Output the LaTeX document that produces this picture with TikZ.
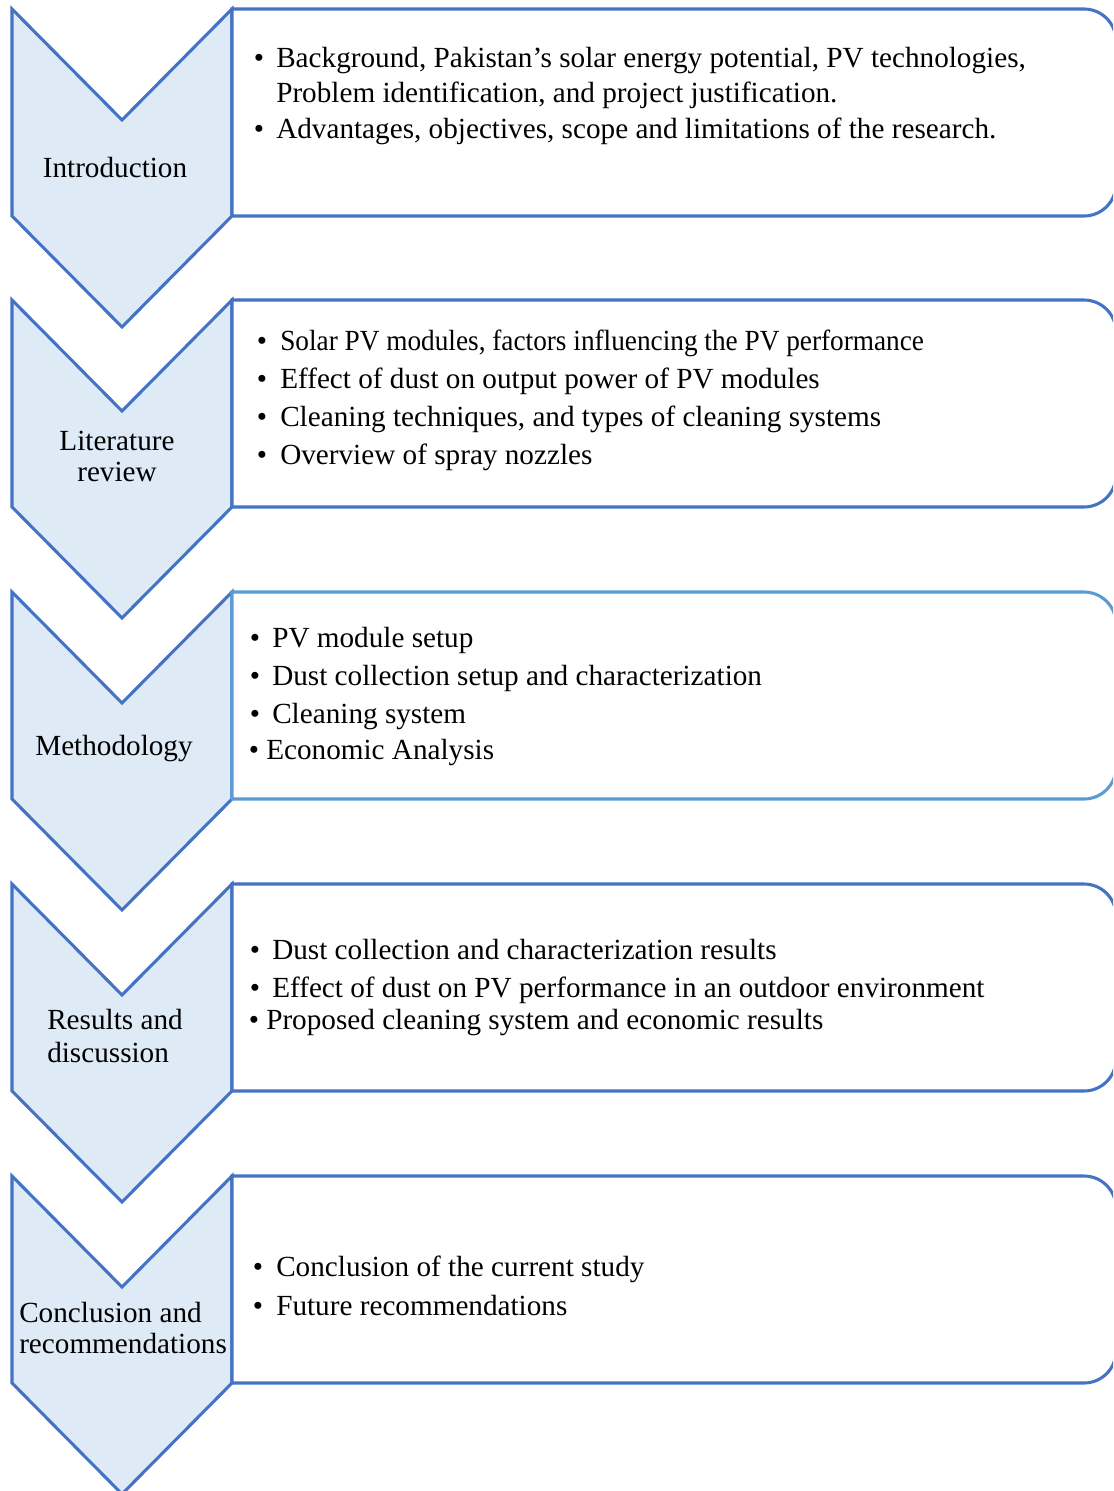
\documentclass[tikz,border=0pt]{standalone}
\usepackage{graphicx}
\usepackage{fontspec}
\setmainfont{Liberation Serif}
\definecolor{edgeblue}{HTML}{4472C4}
\definecolor{lightedge}{HTML}{5B9BD5}
\definecolor{chevfill}{HTML}{DEEAF6}
\tikzset{
  chevron/.style={draw=edgeblue, fill=chevfill, line width=2.3pt, line join=miter},
  infobox/.style={draw=#1, fill=white, line width=2.3pt},
  txt/.style={anchor=base west, inner sep=0pt, font=\fontsize{21.9}{26}\selectfont},
  bul/.style={anchor=base, inner sep=0pt, font=\fontsize{21.9}{26}\selectfont},
  lbl/.style={anchor=base, inner sep=0pt, font=\fontsize{21.9}{26}\selectfont},
  lblw/.style={anchor=base west, inner sep=0pt, font=\fontsize{21.9}{26}\selectfont}
}
\begin{document}
\begin{tikzpicture}[x=0.75pt, y=-0.75pt]
\useasboundingbox (0,0) rectangle (1113,1491);
\begin{scope}
\clip (0,0) rectangle (1113,1491);
\foreach \y/\c in {9/edgeblue, 300/edgeblue, 592/lightedge, 884/edgeblue, 1176/edgeblue}{
  \draw[chevron] (12,\y) -- (122,\y+111) -- (232,\y) -- (232,\y+207) -- (122,\y+318) -- (12,\y+207) -- cycle;
  \draw[infobox=\c] (232,\y+207) -- (232,\y) -- (1084,\y) arc[start angle=-90, end angle=0, radius=32] -- (1116,\y+175) arc[start angle=0, end angle=90, radius=32] -- cycle;
}
\end{scope}
% chevron labels
\node[lbl] (l1) at (115,177) {Introduction};
\node[lbl] (l2a) at (117,450) {Literature};
\node[lbl] (l2b) at (117,481) {review};
\node[lbl] (l3) at (114,755) {Methodology};
\node[lblw] (l4a) at (47,1029) {Results and};
\node[lblw] (l4b) at (47,1062) {discussion};
\node[lblw] (l5a) at (19,1322) {Conclusion and};
\node[lblw] (l5b) at (19,1353) {recommendations};
% box 1
\node[bul] (b1a) at (259,68) {\textbullet};
\node[txt] (t1a) at (276,68) {Background, Pakistan’s solar energy potential, PV technologies,};
\node[txt] (t1b) at (276,103) {Problem identification, and project justification.};
\node[bul] (b1c) at (259,139) {\textbullet};
\node[txt] (t1c) at (276,139) {Advantages, objectives, scope and limitations of the research.};
% box 2
\node[bul] (b2a) at (262,350) {\textbullet};
\node[txt] (t2a) at (280,350) {\scalebox{0.934}[1]{Solar PV modules, factors influencing the PV performance}};
\node[bul] (b2b) at (262,388) {\textbullet};
\node[txt] (t2b) at (280,388) {Effect of dust on output power of PV modules};
\node[bul] (b2c) at (262,426) {\textbullet};
\node[txt] (t2c) at (280,426) {Cleaning techniques, and types of cleaning systems};
\node[bul] (b2d) at (262,464) {\textbullet};
\node[txt] (t2d) at (280,464) {Overview of spray nozzles};
% box 3
\node[bul] (b3a) at (255,647) {\textbullet};
\node[txt] (t3a) at (272,647) {PV module setup};
\node[bul] (b3b) at (255,685) {\textbullet};
\node[txt] (t3b) at (272,685) {Dust collection setup and characterization};
\node[bul] (b3c) at (255,723) {\textbullet};
\node[txt] (t3c) at (272,723) {Cleaning system};
\node[bul] (b3d) at (254,759) {\textbullet};
\node[txt] (t3d) at (266,759) {Economic Analysis};
% box 4
\node[bul] (b4a) at (255,959) {\textbullet};
\node[txt] (t4a) at (272,959) {Dust collection and characterization results};
\node[bul] (b4b) at (255,997) {\textbullet};
\node[txt] (t4b) at (272,997) {Effect of dust on PV performance in an outdoor environment};
\node[bul] (b4c) at (254,1029) {\textbullet};
\node[txt] (t4c) at (266,1029) {Proposed cleaning system and economic results};
% box 5
\node[bul] (b5a) at (258,1276) {\textbullet};
\node[txt] (t5a) at (276,1276) {Conclusion of the current study};
\node[bul] (b5b) at (258,1315) {\textbullet};
\node[txt] (t5b) at (276,1315) {Future recommendations};
\end{tikzpicture}
\end{document}
